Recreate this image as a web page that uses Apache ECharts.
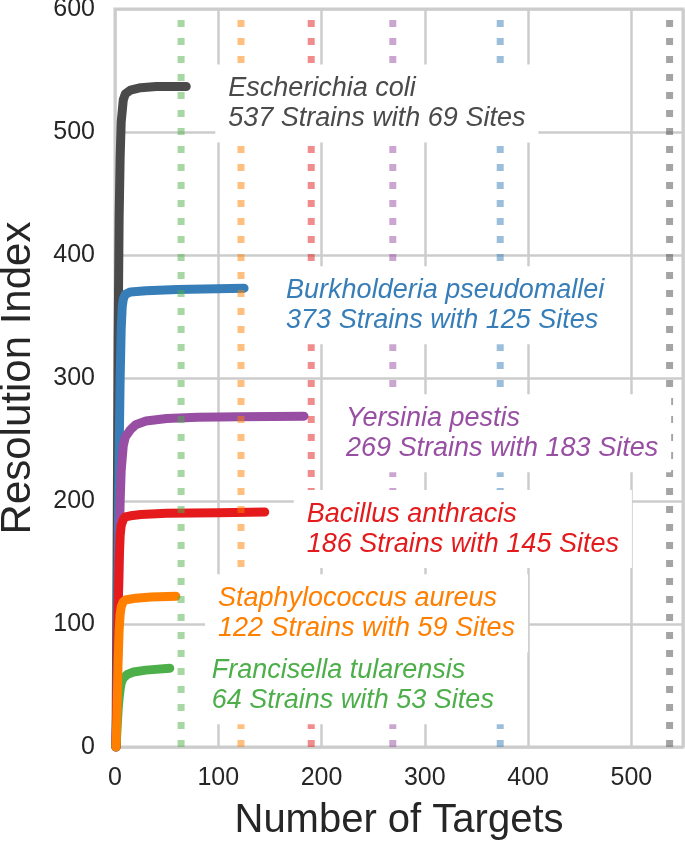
<!DOCTYPE html>
<html>
<head>
<meta charset="utf-8">
<script src="https://cdn.jsdelivr.net/npm/echarts@6/dist/echarts.min.js"></script>
<style>
  html, body { margin: 0; padding: 0; background: #fff; }
  #chart { width: 685px; height: 843px; }
</style>
</head>
<body>
<div id="chart"></div>
<script>
// species, in drawing order (last one ends up on top)
const species = ['Escherichia coli', 'Burkholderia pseudomallei', 'Yersinia pestis',
  'Bacillus anthracis', 'Francisella tularensis', 'Staphylococcus aureus']
const strains = [537, 373, 269, 186, 64, 122]
const sites = [69, 125, 183, 145, 53, 59]
// dotted reference lines, as they sit in the picture
const refLines = [537, 373, 269, 190, 64, 122]
const colors = ['#4a4a4a', '#377eb8', '#984ea3', '#e41a1c', '#4daf4a', '#ff7f00']

// resolution index vs number of targets
const ecoliTargets = [1, 2, 3, 4, 5, 6, 8, 10, 15, 25, 40, 69]
const ecoliIndex = [0, 150, 330, 430, 480, 508, 526, 531, 534, 536, 537, 537]
const burkTargets = [1, 2, 3, 4, 5, 6, 7, 8, 10, 15, 30, 60, 125]
const burkIndex = [0, 60, 150, 240, 300, 340, 358, 364, 368, 370, 371, 372, 373]
const yersTargets = [1, 2, 3, 4, 5, 6, 8, 10, 15, 20, 30, 50, 80, 120, 183]
const yersIndex = [0, 40, 100, 160, 200, 225, 245, 252, 258, 262, 265, 267, 268, 268.5, 269]
const bacTargets = [1, 2, 3, 4, 5, 6, 8, 10, 15, 25, 50, 100, 145]
const bacIndex = [0, 50, 110, 150, 172, 180, 185, 187, 188, 189, 190, 190.5, 191]
const franTargets = [1, 2, 3, 4, 5, 6, 8, 12, 18, 30, 53]
const franIndex = [0, 15, 30, 40, 47, 52, 56, 59, 61, 62.5, 64]
const staphTargets = [1, 2, 3, 4, 5, 6, 8, 10, 20, 35, 59]
const staphIndex = [0, 30, 70, 95, 108, 114, 118, 119.5, 121, 122, 122.5]

const curveX = [ecoliTargets, burkTargets, yersTargets, bacTargets, franTargets, staphTargets]
const curveY = [ecoliIndex, burkIndex, yersIndex, bacIndex, franIndex, staphIndex]

const xTicks = [0, 100, 200, 300, 400, 500]
const yTicks = [0, 100, 200, 300, 400, 500, 600]

const FONT = 'Liberation Sans, Arial, sans-serif'
const series = []

// curves
curveX.forEach((xs, i) => {
  series.push({
    name: species[i],
    type: 'line',
    z: 2,
    showSymbol: false,
    data: xs.map((x, j) => [x, curveY[i][j]]),
    lineStyle: { color: colors[i], width: 9, cap: 'round', join: 'round' }
  })
})

// dotted strain lines, over the curves
refLines.forEach((v, i) => {
  series.push({
    type: 'line',
    z: 3,
    showSymbol: false,
    data: [[v, 0], [v, 600]],
    lineStyle: { color: colors[i], width: 7, type: [7, 11], cap: 'butt', opacity: 0.5 }
  })
})

// text boxes next to the end of each curve
series.push({
  type: 'scatter',
  z: 5,
  symbolSize: 0,
  itemStyle: { color: 'rgba(0,0,0,0)', opacity: 1 },
  data: curveX.map((xs, i) => ({
    value: [xs[xs.length - 1], curveY[i][curveY[i].length - 1]],
    label: { color: colors[i] }
  })),
  label: {
    show: true,
    position: [29, 17],
    align: 'left',
    verticalAlign: 'middle',
    fontFamily: FONT,
    fontStyle: 'italic',
    fontSize: 27,
    lineHeight: 30,
    backgroundColor: '#ffffff',
    padding: [9, 13, 9, 13],
    formatter: p => species[p.dataIndex] + '\n' + strains[p.dataIndex] +
      ' Strains with ' + sites[p.dataIndex] + ' Sites'
  },
  labelLayout: { hideOverlap: false }
})

const myChart = echarts.init(document.getElementById('chart'))
myChart.setOption({
  animation: false,
  backgroundColor: '#ffffff',
  grid: {
    left: 115, right: 2, top: 9, bottom: 96,
    outerBoundsMode: 'none',
    containLabel: false,
    show: true, borderColor: '#cccccc', borderWidth: 3
  },
  xAxis: {
    type: 'value',
    min: 0, max: 550, interval: 100,
    name: 'Number of Targets',
    nameLocation: 'middle',
    nameGap: 54,
    nameTextStyle: { fontFamily: FONT, fontSize: 40, color: '#262626' },
    axisLine: { show: false },
    axisTick: { show: false },
    axisLabel: {
      fontFamily: FONT, fontSize: 25, color: '#262626', margin: 19,
      showMaxLabel: false,
      formatter: v => xTicks.indexOf(v) >= 0 ? String(v) : ''
    },
    splitLine: { lineStyle: { color: '#cccccc', width: 2.5 } }
  },
  yAxis: {
    type: 'value',
    min: 0, max: 600, interval: 100,
    name: 'Resolution Index',
    nameLocation: 'middle',
    nameGap: 76,
    nameTextStyle: { fontFamily: FONT, fontSize: 42, color: '#262626' },
    axisLine: { show: false },
    axisTick: { show: false },
    axisLabel: {
      fontFamily: FONT, fontSize: 25, color: '#262626', margin: 20,
      formatter: v => yTicks.indexOf(v) >= 0 ? String(v) : ''
    },
    splitLine: { lineStyle: { color: '#cccccc', width: 2.5 } }
  },
  series: series
})
</script>
</body>
</html>
